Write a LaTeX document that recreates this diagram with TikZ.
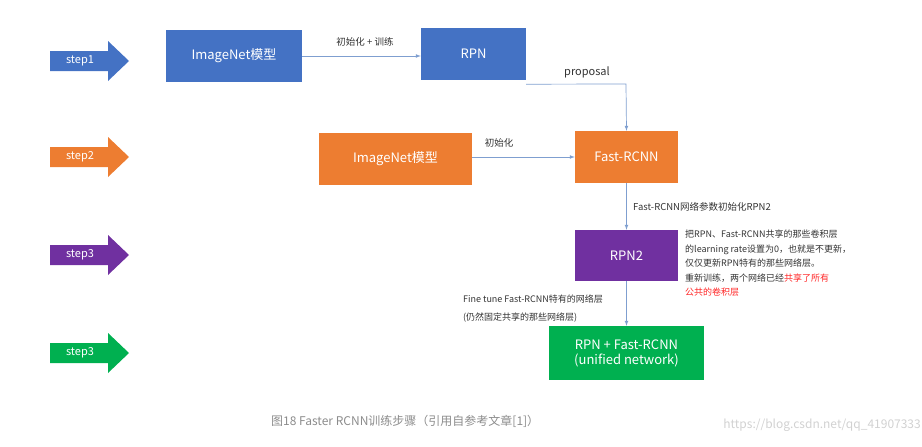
\documentclass[tikz,border=0pt]{standalone}
\usepackage{fontspec}
\setmainfont{Noto Sans CJK SC}
\begin{document}
\begin{tikzpicture}[x=1pt,y=-1pt,
  box/.style={draw=none,text=white,font=\fontsize{13}{15}\selectfont,align=center,inner sep=0},
  lbl/.style={font=\fontsize{9.5}{12}\selectfont,text=black!80,align=left,inner sep=1},
  conn/.style={draw=blue!50!black!60!white,->,>=latex,line width=0.6pt}]
\useasboundingbox (0,0) rectangle (922,447);
\definecolor{cblue}{HTML}{4472C4}
\definecolor{corange}{HTML}{ED7D31}
\definecolor{cpurple}{HTML}{7030A0}
\definecolor{cgreen}{HTML}{00B050}
\definecolor{cline}{HTML}{7F9FD0}
\tikzset{conn/.style={draw=cline,-latex,line width=0.7pt}}
% step arrows
\foreach \c/\y/\n in {cblue/61/a,corange/157/b,cpurple/255/c,cgreen/353/d}{
  \fill[\c] (50,\y-10) -- (108,\y-10) -- (108,\y-20) -- (129,\y) -- (108,\y+20) -- (108,\y+10) -- (50,\y+10) -- cycle;
}
\node[box,font=\fontsize{11}{13}\selectfont] (s1) at (80,61) {step1};
\node[box,font=\fontsize{11}{13}\selectfont] (s2) at (80,157) {step2};
\node[box,font=\fontsize{11}{13}\selectfont] (s3) at (80,255) {step3};
\node[box,font=\fontsize{11}{13}\selectfont] (s4) at (80,353) {step3};
% boxes
\node[box,fill=cblue,minimum width=136,minimum height=52] (img1) at (234,56) {ImageNet模型};
\node[box,fill=cblue,minimum width=105,minimum height=52] (rpn) at (473.5,54) {RPN};
\node[box,fill=corange,minimum width=153,minimum height=52] (img2) at (395.5,159) {ImageNet模型};
\node[box,fill=corange,minimum width=103,minimum height=52] (frc) at (626.5,157) {Fast-RCNN};
\node[box,fill=cpurple,minimum width=103,minimum height=51] (rpn2) at (626.5,255.5) {RPN2};
\node[box,fill=cgreen,minimum width=155,minimum height=54] (uni) at (626.5,353) {RPN + Fast-RCNN\\(unified network)};
% connectors
\draw[conn] (img1.east) -- (rpn.west |- img1.east);
\node[lbl] (l1) at (365,42) {初始化 + 训练};
\coordinate (c1) at (626,84);
\draw[conn] (rpn.south east) ++(0,4) -- (c1) -- (frc.north);
\node[lbl,font=\fontsize{11}{13}\selectfont] (l2) at (587,72) {proposal};
\draw[conn] (img2.east |- frc.west) -- (frc.west);
\node[lbl] (l3) at (499,143) {初始化};
\draw[conn] (frc.south) -- (rpn2.north);
\node[lbl,anchor=west] (l4) at (632,207) {Fast-RCNN网络参数初始化RPN2};
\draw[conn] (rpn2.south) -- (uni.north);
\node[lbl,anchor=west,font=\fontsize{9}{18}\selectfont] (l5) at (462,309) {Fine tune Fast-RCNN特有的网络层\\(仍然固定共享的那些网络层)};
\node[lbl,anchor=north west,font=\fontsize{9}{14.5}\selectfont] (l6) at (684,229) {把RPN、Fast-RCNN共享的那些卷积层\\的learning rate设置为0，也就是不更新，\\仅仅更新RPN特有的那些网络层。\\重新训练，两个网络已经\textcolor{red!85}{共享了所有}\\\textcolor{red!85}{公共的卷积层}};
\node[lbl,anchor=west,text=black!45,font=\fontsize{12}{14}\selectfont] (cap) at (270,421) {图18 Faster RCNN训练步骤（引用自参考文章[1]）};
\node[lbl,anchor=east,text=black!18,font=\fontsize{12}{14}\selectfont] (wm) at (922,425) {https://blog.csdn.net/qq\_41907333};
\end{tikzpicture}
\end{document}
